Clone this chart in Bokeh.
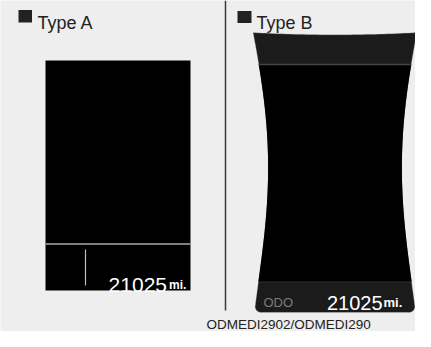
import numpy as np
from bokeh.plotting import figure
from bokeh.models import Range1d
from bokeh.core.properties import value
from bokeh.embed import file_html
from bokeh.resources import INLINE

# ---- data ----
panel_labels = ["Type A", "Type B"]
odometer_values = [21025, 21025]
unit_label = "mi."
odo_label = "ODO"
caption = "ODMEDI2902/ODMEDI290"

FONT = value("Liberation Sans")
BG = "#eeeeee"

p = figure(width=415, height=331, x_range=Range1d(0, 415), y_range=Range1d(331, 0),
           x_axis_type=None, y_axis_type=None, toolbar_location=None,
           output_backend="svg", min_border=0)
p.grid.visible = False
p.outline_line_color = None
p.background_fill_color = BG
p.border_fill_color = BG

# ---- header labels ----
p.quad(left=[18, 237], right=[31.5, 251], top=[9.5, 10.5], bottom=[22, 22.5],
       fill_color="#222222", line_color=None)
p.text(x=[37, 256], y=[22, 22.5], text=panel_labels, text_font=FONT,
       text_font_size=value("18px"), text_color="#222222",
       text_baseline="alphabetic", text_align="left")

# divider
p.line([225, 225], [0, 310], line_color="#3a3a3a", line_width=1.5)

# ---- Type A panel ----
p.quad(left=[45], right=[190], top=[60], bottom=[290], fill_color="#000000", line_color=None)
p.line([45, 190], [243.5, 243.5], line_color="#a8a8a8", line_width=1.5)
p.line([85, 85], [249, 285], line_color="#bdbdbd", line_width=1.2)
p.text(x=[166.5], y=[284], text=[str(odometer_values[0])], text_font=FONT,
       text_font_size=value("21px"), text_color="#ffffff",
       text_baseline="alphabetic", text_align="right")
p.text(x=[168.5], y=[284], text=[unit_label], text_font=FONT,
       text_font_size=value("12px"), text_color="#ffffff", text_font_style="bold",
       text_baseline="alphabetic", text_align="left")

# ---- Type B panel ----
cx = 334.5
yb = 312.0
prof_y = np.array([32, 64, 93, 130, 160, 200, 250, 282, yb])
prof_hw = np.array([82, 76, 72.5, 67.5, 67, 68.5, 71.5, 77.5, 80.5])
coef = np.polyfit(prof_y, prof_hw, 4)


def hw(y):
    return np.polyval(coef, y)


r = 6.0
ys = np.linspace(32, yb - r, 80)
left_x = cx - hw(ys)
right_x = cx + hw(ys)
t = np.linspace(np.pi, np.pi / 2, 12)
xl_end = cx - hw(yb - r)
xr_end = cx + hw(yb - r)
bl_x = xl_end + r + r * np.cos(t)
bl_y = (yb - r) + r * np.sin(t)
t2 = np.linspace(np.pi / 2, 0, 12)
br_x = xr_end - r + r * np.cos(t2)
br_y = (yb - r) + r * np.sin(t2)
top_xs = np.linspace(cx + hw(32), cx - hw(32), 40)
top_ys = 32 + 2.2 * (1 - ((top_xs - cx) / hw(32)) ** 2)

out_x = np.concatenate([left_x, bl_x, br_x, right_x[::-1], top_xs])
out_y = np.concatenate([ys, bl_y, br_y, ys[::-1], top_ys])
p.patch(out_x, out_y, fill_color="#1b1b1b", line_color="#cfcfcf", line_width=0.6, line_alpha=0.6)

by = np.linspace(64, 281, 60)
body_x = np.concatenate([cx - hw(by), (cx + hw(by))[::-1]])
body_y = np.concatenate([by, by[::-1]])
p.patch(body_x, body_y, fill_color="#000000", line_color=None)
p.line([cx - hw(64), cx + hw(64)], [64, 64], line_color="#454545", line_width=1.5)
p.line([cx - hw(281), cx + hw(281)], [281.5, 281.5], line_color="#2a2a2a", line_width=1)

p.text(x=[263], y=[302], text=[odo_label], text_font=FONT,
       text_font_size=value("13px"), text_color="#7c7c7c",
       text_baseline="alphabetic", text_align="left")
p.text(x=[382], y=[302], text=[str(odometer_values[1])], text_font=FONT,
       text_font_size=value("20px"), text_color="#ffffff",
       text_baseline="alphabetic", text_align="right")
p.text(x=[383], y=[302], text=[unit_label], text_font=FONT,
       text_font_size=value("13px"), text_color="#ffffff", text_font_style="bold",
       text_baseline="alphabetic", text_align="left")

# ---- caption ----
p.text(x=[206], y=[324], text=[caption], text_font=FONT,
       text_font_size=value("13.5px"), text_color="#222222",
       text_baseline="alphabetic", text_align="left")

open("out.html", "w").write(file_html(p, INLINE))
